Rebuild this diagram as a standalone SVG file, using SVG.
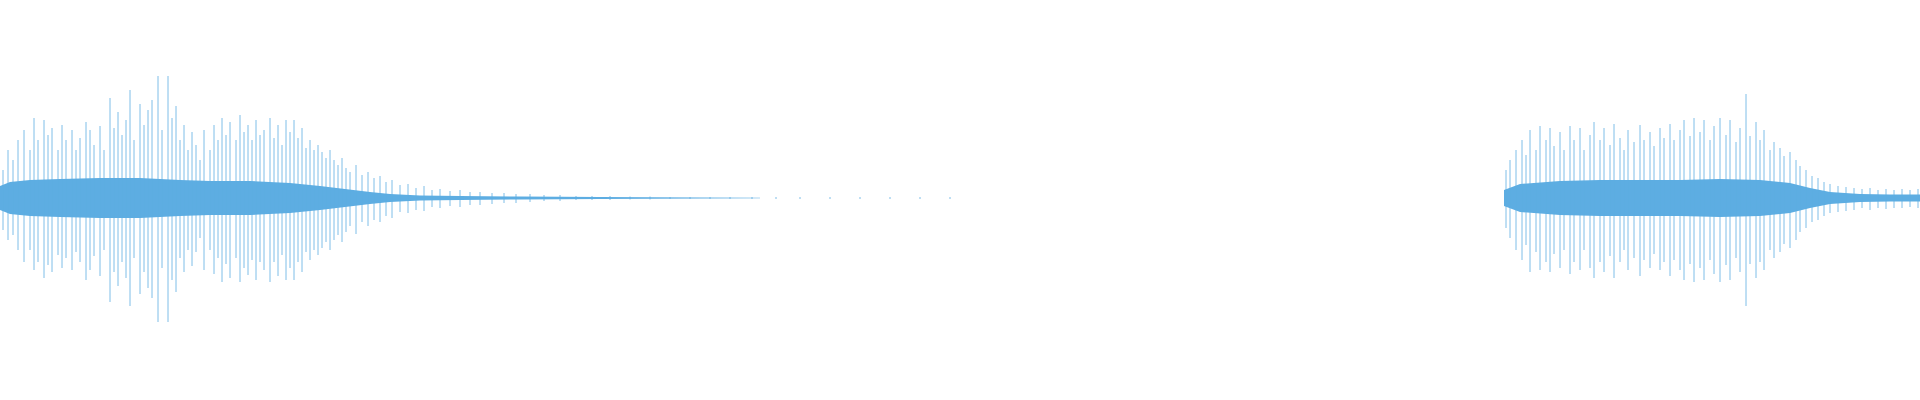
<svg xmlns="http://www.w3.org/2000/svg" width="1920" height="400" viewBox="0 0 1920 400">
<style>.w{stroke:#5dade2;stroke-width:0.8;fill:none}.b{fill:#5dade2}</style>
<rect width="1920" height="400" fill="#fff"/>
<polygon class="b" points="0,186 10,182 30,180 60,179 100,178 140,178 180,180 210,181 250,181 290,183 320,186 345,189 370,192 390,194 420,195.5 460,196 520,196.5 600,197 700,197.5 760,197.7 760,198.3 700,198.5 600,199 520,199.5 460,200 420,200.5 390,202 370,204 345,207 320,210 290,213 250,215 210,215 180,216 140,218 100,218 60,217 30,216 10,214 0,210"/>
<polygon class="b" points="1504,190 1520,184 1560,181 1600,180 1640,180 1680,180 1720,179 1760,180 1790,183 1810,188 1830,192 1860,194 1890,194.5 1920,194.5 1920,201.5 1890,201.5 1860,202 1830,204 1810,208 1790,213 1760,216 1720,217 1680,216 1640,216 1600,216 1560,215 1520,212 1504,206"/>
<path class="w" d="M3 170V230M8 150V240M13 160V235M18 140V250M24 130V262M30 150V250M34 118V270M38 140V262M44 120V278M48 135V265M52 128V272M58 150V255M62 125V268M66 140V258M72 130V270M76 150V252M80 138V262M86 122V280M90 130V270M94 145V256M100 126V276M104 150V250M110 98V302M114 128V272M118 112V286M122 135V262M126 120V278M130 90V306M134 140V258M140 104V294M144 125V272M148 110V288M152 100V298M158 76V322M162 130V268M168 76V322M172 118V280M176 106V292M180 140V258M184 125V272M188 150V250M192 132V266M196 145V252M200 160V238M204 130V270M210 150V250M214 125V274M218 140V258M222 118V282M226 135V264M230 122V278M236 140V258M240 115V282M244 132V268M248 125V275M252 140V260M256 120V280M260 135V262M264 130V270M270 118V282M274 138V262M278 125V276M282 145V255M286 120V280M290 132V268M294 120V280M298 138V262M302 128V272M306 148V252M310 140V260M314 150V250M318 145V255M322 152V248M326 158V242M330 150V250M334 160V240M338 165V235M342 158V242M346 168V232M350 172V226M356 165V234M362 175V222M368 172V226M374 178V220M380 176V222M386 182V216M392 180V218M400 185V212M408 184V213M416 188V210M424 186V211M432 190V207M440 189V208M450 191V206M460 190V207M470 192V205M480 192V205M492 193V204M504 193V203M516 194V203M530 194V202M544 195V201M560 195V201M576 196V200M592 196V200M610 196V200M630 196.5V199.5M650 196.5V199.5M670 197V199M690 197V199M710 197V199M730 197V199M752 197V199M776 197V199M800 197V199M830 197V199M860 197V199M890 197V199M920 197V199M950 197V199"/>
<path class="w" d="M1506 170V228M1510 160V238M1516 150V250M1522 140V260M1526 155V245M1530 130V272M1536 150V252M1540 126V270M1546 140V262M1550 128V272M1554 146V254M1560 132V268M1564 150V250M1570 126V274M1574 140V262M1580 128V270M1584 150V250M1590 135V268M1594 122V278M1600 140V262M1604 128V272M1610 145V256M1614 124V278M1620 138V262M1624 150V250M1628 130V270M1634 142V258M1640 125V276M1644 140V260M1650 132V268M1654 146V254M1660 128V270M1664 138V262M1670 124V276M1674 140V260M1680 130V270M1684 120V280M1690 136V264M1694 118V282M1700 132V268M1704 120V280M1710 140V260M1714 126V274M1720 118V282M1726 135V265M1730 120V280M1736 142V258M1740 128V272M1746 94V306M1750 136V264M1756 122V278M1760 140V262M1764 130V270M1770 150V250M1774 142V258M1780 148V252M1784 156V244M1790 152V248M1796 160V240M1800 166V232M1806 170V228M1812 176V222M1818 178V220M1824 182V216M1830 184V213M1838 186V212M1846 187V211M1854 188V210M1862 189V208M1870 188V210M1878 190V208M1886 189V209M1894 190V208M1902 189V208M1910 190V207M1918 189V208"/>
</svg>
